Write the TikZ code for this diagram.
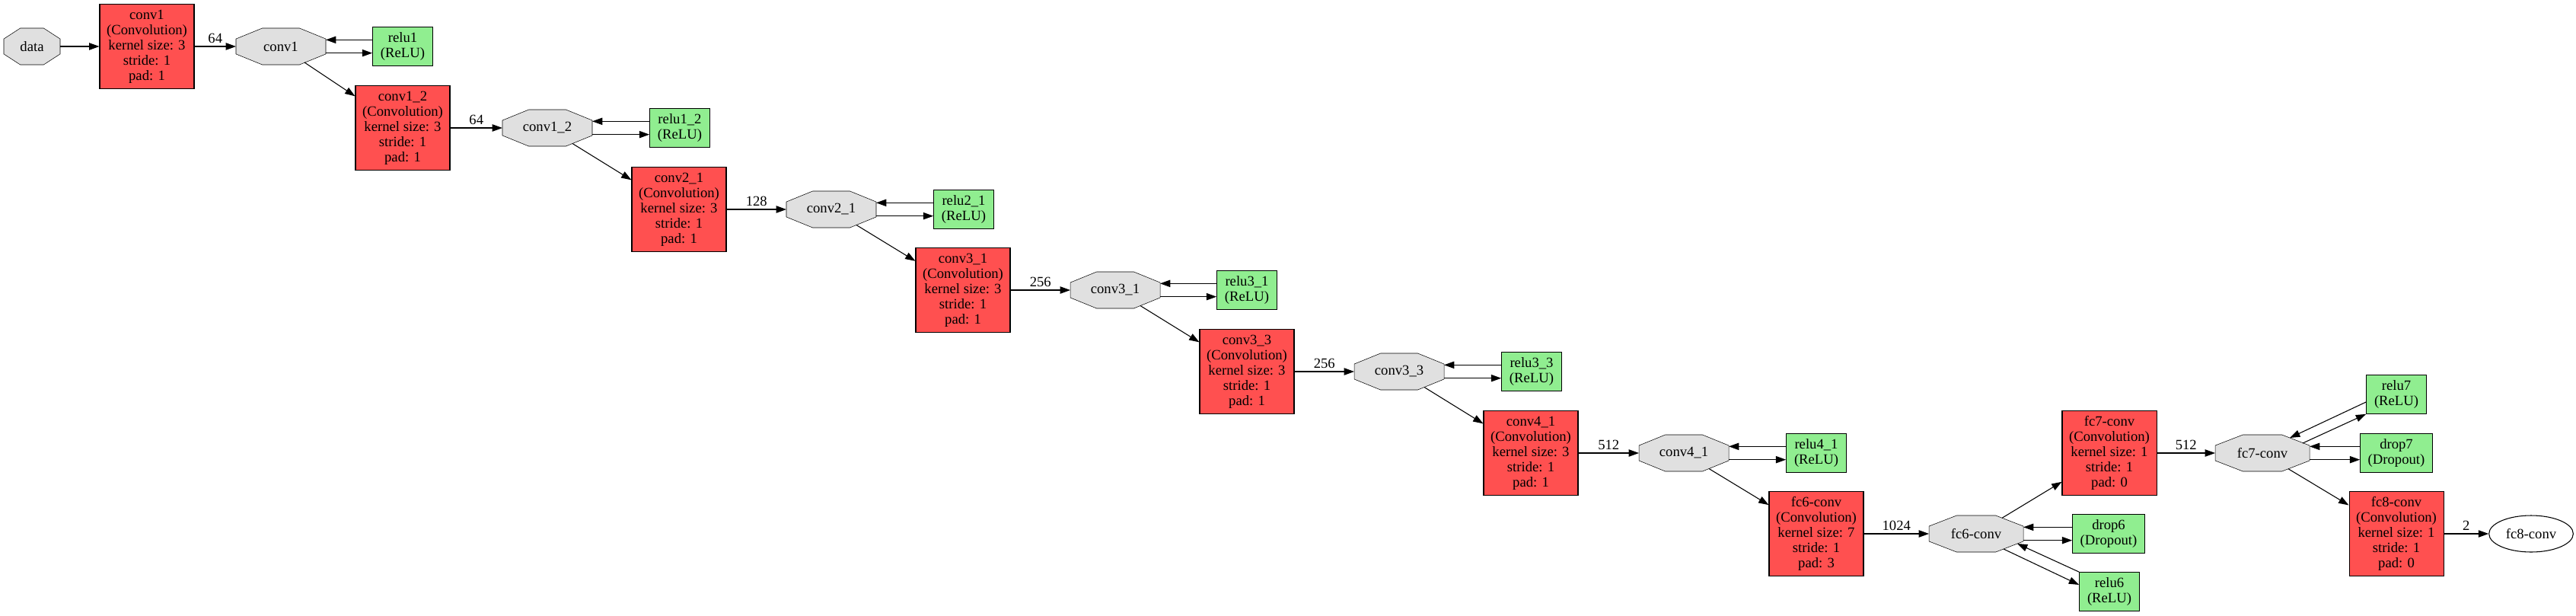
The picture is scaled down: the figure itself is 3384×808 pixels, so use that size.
\documentclass[tikz,border=0pt]{standalone}
\usepackage{fontspec}
\setmainfont{Liberation Serif}
\usetikzlibrary{arrows.meta,shapes.geometric,calc,backgrounds}
\definecolor{convred}{RGB}{255,80,80}
\definecolor{actgreen}{RGB}{144,238,144}
\definecolor{blobgray}{RGB}{224,224,224}
\tikzset{
	layer/.style={rectangle,draw=black,fill=convred,minimum width=93pt,minimum height=83pt,align=center,inner sep=1pt},
	act/.style={rectangle,draw=black,fill=actgreen,minimum width=59pt,minimum height=38pt,align=center,inner sep=1pt},
	blob/.style={rectangle,minimum width=88.5pt,minimum height=36pt,inner sep=1pt,outer sep=0pt},
	blobline/.style={draw=black,fill=blobgray},
	lbl/.style={above,inner sep=3pt},
}
\begin{document}
\begin{tikzpicture}[x=0.75pt,y=-0.75pt,line width=0.8pt,>={Triangle[length=10pt,width=7pt]},font=\fontsize{14pt}{15pt}\selectfont]
		\useasboundingbox (0,0) rectangle (3384,808);
		\node at (42,61) [blob,minimum width=55.5pt] (d) {data};
		\node at (193,61) [layer] (c1) {conv1\\(Convolution)\\kernel size: 3\\stride: 1\\pad: 1};
		\node at (369,61) [blob] (b1) {conv1};
		\node at (529,61) [act] (r1) {relu1\\(ReLU)};
		\node at (529,168) [layer] (c12) {conv1\_2\\(Convolution)\\kernel size: 3\\stride: 1\\pad: 1};
		\node at (719,168) [blob] (b12) {conv1\_2};
		\node at (893,168) [act] (r12) {relu1\_2\\(ReLU)};
		\node at (892,275) [layer] (c21) {conv2\_1\\(Convolution)\\kernel size: 3\\stride: 1\\pad: 1};
		\node at (1092,275) [blob] (b21) {conv2\_1};
		\node at (1266,275) [act] (r21) {relu2\_1\\(ReLU)};
		\node at (1265,381) [layer] (c31) {conv3\_1\\(Convolution)\\kernel size: 3\\stride: 1\\pad: 1};
		\node at (1465,381) [blob] (b31) {conv3\_1};
		\node at (1638,381) [act] (r31) {relu3\_1\\(ReLU)};
		\node at (1638,488) [layer] (c33) {conv3\_3\\(Convolution)\\kernel size: 3\\stride: 1\\pad: 1};
		\node at (1838,488) [blob] (b33) {conv3\_3};
		\node at (2012,488) [act] (r33) {relu3\_3\\(ReLU)};
		\node at (2011,595) [layer] (c41) {conv4\_1\\(Convolution)\\kernel size: 3\\stride: 1\\pad: 1};
		\node at (2212,595) [blob] (b41) {conv4\_1};
		\node at (2386,595) [act] (r41) {relu4\_1\\(ReLU)};
		\node at (2386,701) [layer] (fc6) {fc6-conv\\(Convolution)\\kernel size: 7\\stride: 1\\pad: 3};
		\node at (2596,701) [blob,minimum width=93pt] (b6) {fc6-conv};
		\node at (2770,701) [act,minimum width=71pt] (d6) {drop6\\(Dropout)};
		\node at (2771,777) [act] (r6) {relu6\\(ReLU)};
		\node at (2771,595) [layer] (fc7) {fc7-conv\\(Convolution)\\kernel size: 1\\stride: 1\\pad: 0};
		\node at (2972,595) [blob,minimum width=93pt] (b7) {fc7-conv};
		\node at (3148,518) [act] (r7) {relu7\\(ReLU)};
		\node at (3148,595) [act,minimum width=71pt] (d7) {drop7\\(Dropout)};
		\node at (3148,701) [layer] (fc8) {fc8-conv\\(Convolution)\\kernel size: 1\\stride: 1\\pad: 0};
		\node at (3325,701) [ellipse,draw=black,minimum width=83pt,minimum height=36pt,inner sep=1pt] (b8) {fc8-conv};
		\begin{scope}[on background layer]
			\foreach \n in {d,b1,b12,b21,b31,b33,b41,b6,b7}
				\draw[blobline] ($(\n.north west)!.293!(\n.north east)$) -- ($(\n.north west)!.707!(\n.north east)$) -- ($(\n.north east)!.293!(\n.south east)$) -- ($(\n.north east)!.707!(\n.south east)$) -- ($(\n.south west)!.707!(\n.south east)$) -- ($(\n.south west)!.293!(\n.south east)$) -- ($(\n.north west)!.707!(\n.south west)$) -- ($(\n.north west)!.293!(\n.south west)$) -- cycle;
		\end{scope}
		\draw[->] (d) -- (c1);
		\draw[->] (c1) -- node[lbl] {64} (b1);
		\draw[->] ([yshift=6.5pt]r1.west) -- ([yshift=6.5pt]b1.east);
		\draw[->] ([yshift=-6.5pt]b1.east) -- ([yshift=-6.5pt]r1.west);
		\draw[->] ([shift={(31,21)}]b1.center) -- (c12);
		\draw[->] (c12) -- node[lbl] {64} (b12);
		\draw[->] ([yshift=6.5pt]r12.west) -- ([yshift=6.5pt]b12.east);
		\draw[->] ([yshift=-6.5pt]b12.east) -- ([yshift=-6.5pt]r12.west);
		\draw[->] ([shift={(33,20.5)}]b12.center) -- (c21);
		\draw[->] (c21) -- node[lbl] {128} (b21);
		\draw[->] ([yshift=6.5pt]r21.west) -- ([yshift=6.5pt]b21.east);
		\draw[->] ([yshift=-6.5pt]b21.east) -- ([yshift=-6.5pt]r21.west);
		\draw[->] ([shift={(33,20.5)}]b21.center) -- (c31);
		\draw[->] (c31) -- node[lbl] {256} (b31);
		\draw[->] ([yshift=6.5pt]r31.west) -- ([yshift=6.5pt]b31.east);
		\draw[->] ([yshift=-6.5pt]b31.east) -- ([yshift=-6.5pt]r31.west);
		\draw[->] ([shift={(33,20.5)}]b31.center) -- (c33);
		\draw[->] (c33) -- node[lbl] {256} (b33);
		\draw[->] ([yshift=6.5pt]r33.west) -- ([yshift=6.5pt]b33.east);
		\draw[->] ([yshift=-6.5pt]b33.east) -- ([yshift=-6.5pt]r33.west);
		\draw[->] ([shift={(33,20.5)}]b33.center) -- (c41);
		\draw[->] (c41) -- node[lbl] {512} (b41);
		\draw[->] ([yshift=6.5pt]r41.west) -- ([yshift=6.5pt]b41.east);
		\draw[->] ([yshift=-6.5pt]b41.east) -- ([yshift=-6.5pt]r41.west);
		\draw[->] ([shift={(33,20.5)}]b41.center) -- (fc6);
		\draw[->] (fc6) -- node[lbl] {1024} (b6);
		\draw[->] ([yshift=6.5pt]d6.west) -- ([yshift=6.5pt]b6.east);
		\draw[->] ([yshift=-6.5pt]b6.east) -- ([yshift=-6.5pt]d6.west);
		\draw[->] ([shift={(36,20)}]b6.center) -- ([yshift=6.75pt]r6.west);
		\draw[->] (r6.north west) -- ([shift={(54,13)}]b6.center);
		\draw[->] ([shift={(34,-20.7)}]b6.center) -- (fc7);
		\draw[->] (fc7) -- node[lbl] {512} (b7);
		\draw[->] ([yshift=-7.5pt]r7.west) -- ([shift={(36,-20)}]b7.center);
		\draw[->] ([shift={(53,-13)}]b7.center) -- (r7.south west);
		\draw[->] ([yshift=6.5pt]d7.west) -- ([yshift=6.5pt]b7.east);
		\draw[->] ([yshift=-6.5pt]b7.east) -- ([yshift=-6.5pt]d7.west);
		\draw[->] ([shift={(34,20.7)}]b7.center) -- (fc8);
		\draw[->] (fc8) -- node[lbl] {2} (b8);
\end{tikzpicture}
\end{document}
